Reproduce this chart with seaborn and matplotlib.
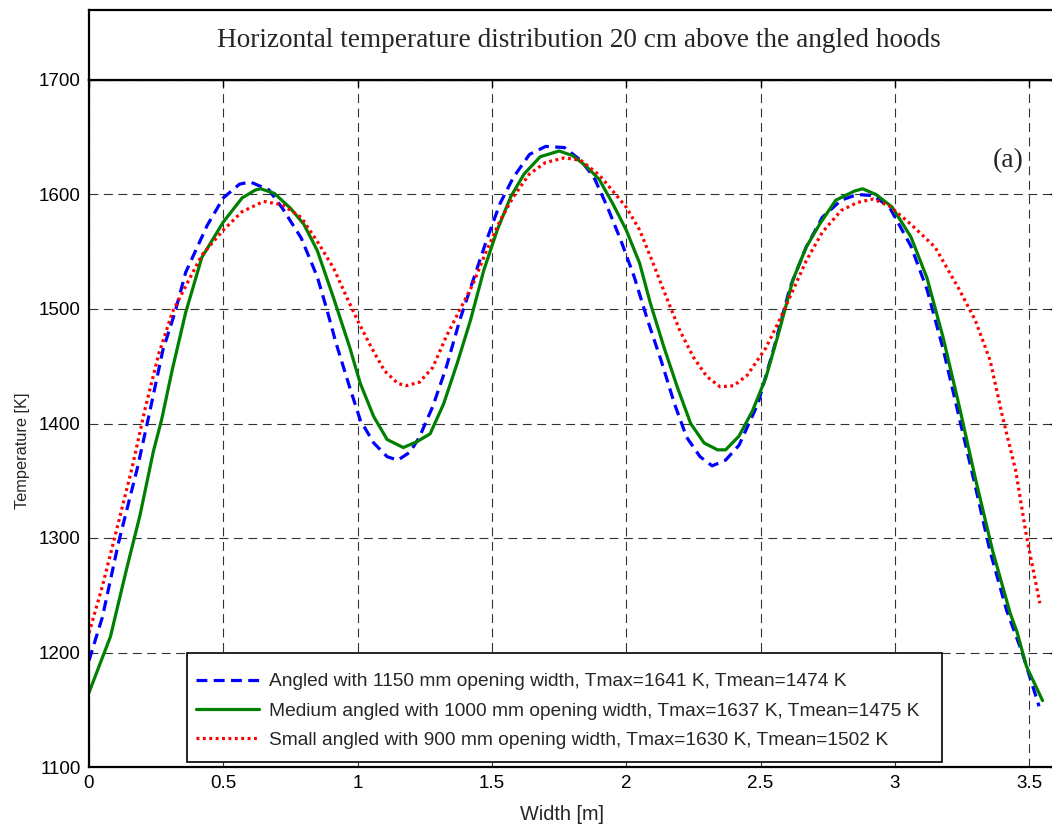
import numpy as np
import pandas as pd
import seaborn as sns
import matplotlib
matplotlib.use("Agg")
import matplotlib.pyplot as plt
from matplotlib import font_manager
from matplotlib.patches import Rectangle

# ---------------- data ----------------
blue_x = [0.00, 0.05, 0.11, 0.18, 0.225, 0.275, 0.32, 0.36, 0.44, 0.50, 0.56, 0.60, 0.67, 0.72,
          0.79, 0.85, 0.885, 0.92, 0.97, 1.01, 1.06, 1.11, 1.15, 1.195, 1.23, 1.28, 1.33, 1.38,
          1.43, 1.48, 1.53, 1.58, 1.64, 1.70, 1.77, 1.83, 1.88, 1.93, 1.98, 2.03, 2.08, 2.13,
          2.18, 2.225, 2.275, 2.32, 2.37, 2.42, 2.49, 2.55, 2.61, 2.67, 2.73, 2.80, 2.86, 2.92,
          2.98, 3.06, 3.12, 3.18, 3.24, 3.30, 3.354, 3.416, 3.474, 3.537]
blue_t = [1193, 1231, 1296, 1361, 1409, 1464, 1497, 1532, 1573, 1597, 1609, 1611, 1604, 1588,
          1562, 1528, 1500, 1470, 1432, 1403, 1383, 1371, 1368, 1375, 1388, 1415, 1449, 1490,
          1525, 1560, 1592, 1615, 1635, 1642, 1641, 1630, 1615, 1589, 1560, 1528, 1490, 1455,
          1417, 1388, 1371, 1363, 1368, 1381, 1417, 1466, 1519, 1554, 1580, 1595, 1600, 1599,
          1589, 1555, 1517, 1465, 1405, 1345, 1289, 1237, 1200, 1153]

green_x = [0.00, 0.08, 0.14, 0.19, 0.24, 0.27, 0.31, 0.36, 0.42, 0.50, 0.57, 0.62, 0.64, 0.69,
           0.75, 0.80, 0.85, 0.91, 0.97, 1.01, 1.06, 1.11, 1.17, 1.22, 1.27, 1.32, 1.37, 1.42,
           1.47, 1.52, 1.57, 1.62, 1.68, 1.75, 1.80, 1.85, 1.90, 1.95, 2.00, 2.05, 2.09, 2.14,
           2.19, 2.24, 2.29, 2.34, 2.37, 2.42, 2.47, 2.52, 2.57, 2.62, 2.67, 2.72, 2.78, 2.85,
           2.88, 2.93, 2.99, 3.06, 3.12, 3.18, 3.24, 3.30, 3.364, 3.43, 3.455, 3.49, 3.55]
green_t = [1165, 1214, 1273, 1320, 1376, 1403, 1447, 1497, 1545, 1576, 1597, 1604, 1605, 1601,
           1588, 1574, 1551, 1510, 1467, 1435, 1406, 1386, 1379, 1384, 1391, 1417, 1452, 1490,
           1534, 1569, 1598, 1618, 1633, 1638, 1634, 1625, 1613, 1592, 1569, 1540, 1505, 1467,
           1432, 1400, 1383, 1377, 1377, 1389, 1411, 1440, 1481, 1525, 1554, 1574, 1595, 1603,
           1605, 1600, 1589, 1563, 1527, 1475, 1415, 1352, 1289, 1234, 1218, 1188, 1158]

red_x = [0.00, 0.05, 0.11, 0.16, 0.21, 0.26, 0.31, 0.36, 0.42, 0.50, 0.57, 0.65, 0.72, 0.79,
         0.85, 0.91, 0.96, 1.00, 1.05, 1.10, 1.15, 1.18, 1.23, 1.28, 1.33, 1.38, 1.43, 1.48,
         1.53, 1.58, 1.64, 1.70, 1.77, 1.83, 1.90, 1.95, 2.00, 2.05, 2.10, 2.15, 2.20, 2.25,
         2.30, 2.35, 2.40, 2.45, 2.52, 2.57, 2.62, 2.67, 2.73, 2.80, 2.86, 2.92, 2.98, 3.06,
         3.15, 3.24, 3.30, 3.355, 3.40, 3.45, 3.49, 3.54]
red_t = [1217, 1258, 1314, 1361, 1414, 1461, 1497, 1520, 1547, 1569, 1585, 1594, 1591, 1580,
         1559, 1536, 1510, 1490, 1467, 1446, 1435, 1433, 1436, 1449, 1476, 1499, 1522, 1551,
         1577, 1598, 1618, 1628, 1632, 1630, 1617, 1603, 1589, 1569, 1540, 1510, 1481, 1458,
         1441, 1432, 1433, 1442, 1466, 1490, 1516, 1542, 1567, 1586, 1593, 1596, 1590, 1574,
         1554, 1517, 1490, 1455, 1407, 1359, 1302, 1243]

labels = ["Angled with 1150 mm opening width, Tmax=1641 K, Tmean=1474 K",
          "Medium angled with 1000 mm opening width, Tmax=1637 K, Tmean=1475 K",
          "Small angled with 900 mm opening width, Tmax=1630 K, Tmean=1502 K"]
x_ticks = [0, 0.5, 1, 1.5, 2, 2.5, 3, 3.5]
x_ticklabels = ["0", "0.5", "1", "1.5", "2", "2.5", "3", "3.5"]
y_ticks = [1100, 1200, 1300, 1400, 1500, 1600, 1700]
title_text = "Horizontal temperature distribution 20 cm above the angled hoods"
panel_text = "(a)"
x_label = "Width [m]"
y_label = "Temperature [K]"

# ---------------- style ----------------
sns.set_style("white")
names = {f.name for f in font_manager.fontManager.ttflist}
sans = "Liberation Sans" if "Liberation Sans" in names else "DejaVu Sans"
narrow = "Liberation Sans Narrow" if "Liberation Sans Narrow" in names else sans
serif = "Liberation Serif" if "Liberation Serif" in names else "DejaVu Serif"
plt.rcParams["font.family"] = [sans, "DejaVu Sans"]

W, H = 1052, 827
fig = plt.figure(figsize=(W / 100, H / 100), dpi=100)

def fx(px):
    return px / W

def fy(py):
    return 1 - py / H

ax_left, ax_right, ax_top, ax_bot = 89, 1057, 80, 767
ax = fig.add_axes([fx(ax_left), fy(ax_bot), fx(ax_right - ax_left), (ax_bot - ax_top) / H])

df_b = pd.DataFrame({"x": blue_x, "T": blue_t})
df_g = pd.DataFrame({"x": green_x, "T": green_t})
df_r = pd.DataFrame({"x": red_x, "T": red_t})

sns.lineplot(data=df_b, x="x", y="T", ax=ax, color=(0, 0, 1), lw=2.3,
             linestyle=(0, (3.4, 2.0)), label=labels[0], sort=False)
sns.lineplot(data=df_g, x="x", y="T", ax=ax, color=(0, 0.5, 0), lw=2.3,
             linestyle="-", label=labels[1], sort=False)
sns.lineplot(data=df_r, x="x", y="T", ax=ax, color=(1, 0, 0), lw=2.3,
             linestyle=(0, (0.9, 1.1)), label=labels[2], sort=False)

xmax = (ax_right - ax_left) / 268.6
ax.set_xlim(0, xmax)
ax.set_ylim(1100, 1700)
ax.set_xticks(x_ticks)
ax.set_xticklabels(x_ticklabels)
ax.set_yticks(y_ticks)
ax.grid(True, color="0.2", lw=0.8, linestyle=(0, (8, 5)))
ax.tick_params(direction="in", length=5, width=1, top=True, right=True,
               labelsize=13.5, pad=6, colors="black")
for s in ax.spines.values():
    s.set_color("black")
    s.set_linewidth(1.6)
ax.set_xlabel(x_label, fontsize=14.3)
ax.set_ylabel(y_label, fontsize=11.8)
ax.xaxis.set_label_coords((562 - ax_left) / (ax_right - ax_left), (ax_bot - 815) / (ax_bot - ax_top))
ax.yaxis.set_label_coords((23 - ax_left) / (ax_right - ax_left), 1 - (451 - ax_top) / (ax_bot - ax_top))
ax.xaxis.label.set_va("center")
ax.yaxis.label.set_va("center")

ax.text(3.48, 1630, panel_text, family=serif, fontsize=20, ha="right", va="center")

# legend: frame drawn as a rectangle, entries placed inside it
frame = Rectangle((fx(187), fy(762)), fx(942 - 187), (762 - 653) / H, transform=fig.transFigure,
                  facecolor="white", edgecolor="black", lw=1.2, zorder=4)
ax.add_patch(frame)
frame.set_clip_on(False)
leg = ax.legend(loc="upper left", bbox_to_anchor=(fx(196), fy(673)),
                bbox_transform=fig.transFigure, frameon=False,
                handlelength=3.3, handletextpad=0.5, borderpad=0.0,
                labelspacing=0.62, borderaxespad=0, prop={"family": narrow, "size": 13.8})
leg.set_zorder(5)

# title box
tax = fig.add_axes([fx(ax_left), fy(ax_top), fx(ax_right - ax_left), (ax_top - 10) / H])
tax.set_xticks([])
tax.set_yticks([])
tax.set_facecolor("white")
for s in tax.spines.values():
    s.set_color("black")
    s.set_linewidth(1.6)
tax.text((579 - ax_left) / (ax_right - ax_left), 0.56, title_text, family=serif,
         fontsize=19.6, ha="center", va="center", transform=tax.transAxes)

fig.savefig("out.png", dpi=100)
